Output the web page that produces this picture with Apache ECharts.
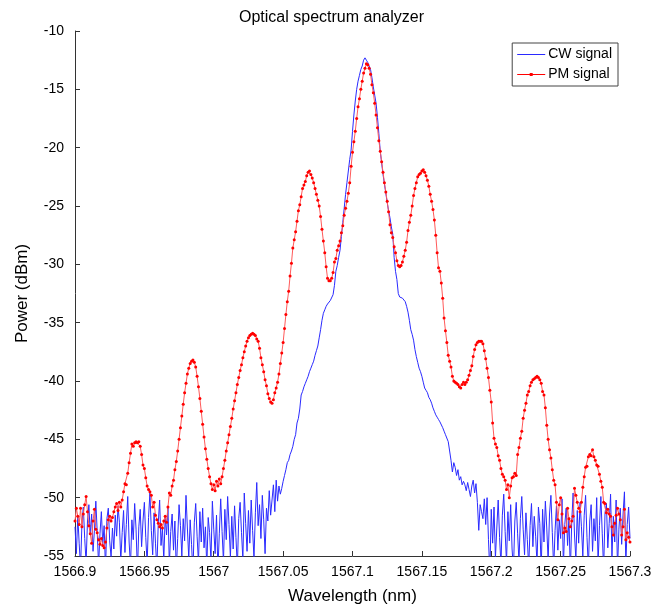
<!DOCTYPE html>
<html>
<head>
<meta charset="utf-8">
<script src="https://cdn.jsdelivr.net/npm/echarts@6/dist/echarts.min.js"></script>
<style>
  html, body { margin: 0; padding: 0; background: #fff; }
  #main { width: 663px; height: 610px; }
</style>
</head>
<body>
<div id="main"></div>
<script>
// OSA sample grid (nm)
var wlStart = 1566.9;
var wlStep = 0.001;

var xTicks = [1566.9, 1566.95, 1567, 1567.05, 1567.1, 1567.15, 1567.2, 1567.25, 1567.3];
var yTicks = [-55, -50, -45, -40, -35, -30, -25, -20, -15, -10];

// CW signal, dBm, one value per sample
var cwPower = [
  -52.5, -54.8, -51.6, -53.9, -56.0, -52.2, -50.8, -53.5, -55.6, -52.0,
  -50.6, -53.2, -51.4, -54.6, -52.8, -50.3, -52.9, -55.8, -53.1, -51.2,
  -54.0, -52.4, -56.2, -51.8, -50.9, -53.7, -55.1, -52.6, -54.4, -51.5,
  -53.3, -50.7, -52.1, -55.4, -53.0, -51.1, -54.7, -52.3, -49.9, -53.8,
  -55.9, -51.9, -53.6, -50.5, -52.7, -56.4, -52.5, -51.0, -54.2, -52.0,
  -50.4, -53.4, -55.7, -51.7, -49.6, -52.8, -54.9, -51.3, -53.9, -56.1,
  -52.2, -50.2, -54.1, -52.6, -55.3, -51.6, -53.2, -50.8, -55.8, -52.9,
  -51.4, -54.5, -52.0, -56.3, -53.5, -50.6, -52.4, -55.0, -51.8, -53.7,
  -49.8, -52.6, -55.2, -51.9, -54.0, -56.5, -52.1, -50.5, -53.3, -55.6,
  -51.2, -53.8, -50.9, -54.3, -52.5, -56.0, -51.7, -53.0, -55.4, -50.3,
  -52.7, -54.8, -51.5, -56.2, -53.1, -50.1, -52.9, -55.5, -51.0, -53.6,
  -49.9, -52.3, -55.1, -51.6, -54.4, -50.7, -53.4, -56.0, -51.8, -50.4,
  -53.0, -55.3, -49.6, -52.2, -54.6, -51.1, -53.9, -50.2, -52.8, -55.2,
  -51.3, -48.7, -52.4, -50.6, -53.5, -49.8, -51.9, -54.8, -50.9, -52.0,
  -49.4, -51.5, -50.2, -48.9, -51.2, -48.5, -50.3, -49.0, -49.7, -49.2,
  -48.6, -48.1, -47.6, -47.0, -46.8, -46.3, -46.0, -45.6, -45.0, -44.6,
  -43.6, -43.2, -42.4, -41.2, -40.9, -40.5, -40.2, -39.9, -39.6, -39.2,
  -38.9, -38.6, -38.3, -37.8, -37.4, -37.0, -36.3, -35.6, -34.8, -34.2,
  -33.9, -33.6, -33.4, -33.3, -33.1, -33.0, -32.6, -31.8, -30.6, -30.1,
  -29.4, -28.8, -27.6, -26.4, -25.2, -24.0, -23.0, -22.0, -21.0, -20.2,
  -18.6, -17.2, -16.0, -15.0, -14.3, -13.8, -13.3, -13.0, -12.5, -12.3,
  -12.5, -12.7, -12.8, -13.3, -14.0, -14.8, -15.5, -16.2, -17.4, -18.8,
  -20.3, -21.3, -22.3, -23.1, -23.9, -24.7, -25.4, -26.0, -26.8, -27.4,
  -29.4, -30.6, -31.3, -32.5, -32.8, -32.9, -32.9, -33.0, -33.2, -33.6,
  -34.1, -34.8, -35.6, -36.0, -36.5, -37.3, -37.9, -38.4, -38.9, -39.2,
  -39.6, -40.1, -40.6, -40.8, -41.0, -41.4, -41.6, -41.9, -42.3, -42.6,
  -42.9, -43.1, -43.3, -43.5, -43.4, -44.0, -44.3, -44.6, -44.6, -45.2,
  -46.0, -46.8, -47.8, -47.0, -47.4, -48.1, -47.6, -48.5, -48.2, -48.9,
  -48.6, -48.9, -49.4, -48.7, -49.3, -49.9, -49.0, -48.5, -49.6, -48.8,
  -50.4, -52.8, -50.6, -51.2, -51.8, -50.1, -52.3, -50.0, -53.6, -56.5,
  -51.0, -53.9, -50.8, -55.2, -52.6, -50.2, -53.4, -55.8, -51.5, -49.7,
  -52.9, -55.6, -51.2, -53.7, -50.6, -54.4, -56.2, -52.0, -50.4, -53.1,
  -55.5, -51.8, -49.9, -52.7, -54.9, -51.3, -53.6, -56.0, -52.4, -50.5,
  -54.2, -51.6, -53.3, -55.7, -50.8, -52.2, -56.3, -51.0, -53.8, -50.3,
  -52.6, -55.4, -51.4, -49.8, -53.0, -56.1, -52.8, -50.7, -54.5, -51.9,
  -53.5, -50.1, -55.9, -52.3, -50.9, -54.1, -51.7, -56.4, -52.1, -49.6,
  -53.2, -55.3, -51.1, -53.9, -50.4, -52.5, -55.0, -51.5, -49.8, -53.4,
  -56.0, -52.0, -50.6, -54.6, -51.8, -53.7, -50.0, -55.6, -52.4, -49.9,
  -53.1, -56.2, -51.3, -50.5, -54.3, -52.2, -49.7, -55.1, -51.6, -53.8,
  -50.2, -56.1, -52.7, -50.9, -54.0, -51.4, -49.5, -55.7, -52.3, -50.8,
  -53.5
];

// PM signal, dBm, one value per sample
var pmPower = [
  -52.0, -50.9, -51.6, -52.3, -50.9, -52.5, -51.4, -50.6, -49.9, -51.2,
  -52.4, -53.1, -53.9, -52.0, -51.0, -52.7, -53.0, -53.6, -54.0, -53.5,
  -54.1, -54.3, -53.8, -52.6, -51.9, -51.6, -52.0, -51.7, -51.2, -50.8,
  -50.5, -51.1, -50.4, -50.8, -50.2, -49.5, -48.8, -48.9, -47.9, -47.0,
  -46.2, -45.4, -45.6, -45.3, -45.2, -45.3, -45.2, -45.6, -46.3, -47.2,
  -47.5, -48.3, -49.0, -49.3, -49.5, -49.8, -50.8, -50.4, -51.5, -51.9,
  -52.2, -52.5, -52.3, -52.6, -52.0, -51.6, -52.1, -50.8, -49.6, -49.8,
  -49.0, -48.5, -47.6, -46.9, -46.0, -45.0, -44.0, -43.0, -42.0, -41.0,
  -40.2, -39.4, -38.9, -38.5, -38.3, -38.2, -38.4, -38.8, -39.6, -40.5,
  -41.5, -42.6, -43.7, -44.8, -45.8, -46.7, -47.5, -48.2, -48.8, -49.3,
  -48.9, -49.4, -48.6, -49.0, -48.4, -48.8, -48.2, -47.5, -46.8, -46.0,
  -45.3, -44.6, -43.9, -43.2, -42.4, -41.7, -41.0, -40.3, -39.7, -39.1,
  -38.6, -38.0, -37.5, -37.0, -36.6, -36.3, -36.1, -36.0, -35.9, -36.0,
  -36.1, -36.4, -36.6, -37.2, -38.0, -38.6, -39.2, -39.9, -40.4, -41.1,
  -41.5, -41.8, -41.9, -41.6, -41.0, -40.6, -40.1, -39.4, -38.5, -37.6,
  -36.7, -35.5, -34.3, -33.2, -32.3, -31.0, -29.9, -28.6, -27.9, -27.2,
  -26.3, -25.4, -24.9, -24.2, -23.5, -23.2, -22.9, -22.4, -22.1, -22.0,
  -22.3, -22.6, -23.0, -23.5, -24.0, -24.5, -25.0, -25.9, -27.0, -28.0,
  -29.0, -30.2, -31.2, -31.4, -31.4, -31.2, -30.7, -29.8, -29.5, -28.8,
  -28.4, -28.0, -27.3, -26.7, -25.8, -25.2, -24.6, -23.9, -23.0, -21.6,
  -20.4, -19.5, -18.6, -17.5, -16.5, -15.8, -15.0, -14.3, -13.6, -13.2,
  -12.8, -12.9, -13.2, -13.7, -14.6, -15.3, -16.2, -17.2, -18.3, -19.4,
  -20.3, -21.2, -22.1, -23.0, -23.8, -24.6, -25.5, -26.6, -27.3, -27.7,
  -28.5, -29.0, -29.7, -30.1, -30.2, -30.1, -29.8, -29.3, -28.8, -28.1,
  -27.1, -26.4, -25.8, -25.0, -24.1, -23.5, -23.0, -22.5, -22.3, -22.2,
  -22.0, -21.9, -22.1, -22.4, -22.8, -23.3, -24.0, -24.6, -25.3, -26.2,
  -27.5, -29.0, -30.3, -30.6, -31.6, -32.9, -34.6, -35.7, -36.7, -37.8,
  -38.3, -38.8, -39.6, -40.0, -40.1, -40.2, -40.3, -40.5, -40.6, -40.3,
  -40.1, -40.3, -40.1, -39.9, -39.5, -39.1, -38.7, -37.9, -37.3, -36.9,
  -36.7, -36.6, -36.6, -36.6, -36.8, -37.4, -38.1, -38.9, -39.7, -40.8,
  -41.8, -43.6, -44.9, -45.4, -45.7, -46.4, -46.8, -47.5, -48.0, -48.2,
  -48.5, -49.3, -48.9, -50.0, -49.0, -48.3, -48.2, -47.9, -48.1, -46.3,
  -45.7, -44.9, -44.3, -43.2, -42.5, -41.9, -41.2, -40.9, -40.4, -40.1,
  -39.9, -39.8, -39.7, -39.6, -39.7, -39.9, -40.2, -40.9, -41.2, -42.3,
  -43.8, -45.0, -45.9, -46.6, -47.6, -48.5, -48.9, -50.4, -51.9, -50.6,
  -50.0, -51.4, -53.0, -52.6, -52.9, -50.9, -51.8, -52.5, -52.0, -51.6,
  -49.2, -49.8, -50.4, -50.9, -51.2, -50.4, -49.1, -48.2, -47.4, -47.3,
  -46.5, -46.3, -46.4, -45.9, -46.5, -46.8, -47.2, -47.3, -48.0, -48.6,
  -49.1, -50.4, -50.5, -51.3, -51.0, -51.4, -51.6, -52.5, -53.2, -52.2,
  -51.5, -50.9, -51.4, -51.9, -53.2, -52.5, -51.0, -53.6, -53.0, -53.4,
  -53.8
];

function pairs(vals) {
  return vals.map(function (v, i) {
    return [+(wlStart + i * wlStep).toFixed(4), v];
  });
}

var font = '"Liberation Sans", Arial, sans-serif';
// legend glyphs: plain line, and line with a dot in the middle
var iconLine = 'path://M0,1h28v1h-28z M0,0h0.01v3h-0.01z';
var iconDotLine = 'path://M0,1h28v1h-28z M12.5,0h3v3h-3z';

var myChart = echarts.init(document.getElementById('main'));

var option = {
  animation: false,
  backgroundColor: '#fff',
  textStyle: { fontFamily: font },
  title: {
    text: 'Optical spectrum analyzer',
    left: 'center',
    top: 5,
    textStyle: { fontFamily: font, fontSize: 16, fontWeight: 'normal', color: '#000' }
  },
  legend: {
    orient: 'vertical',
    right: 45,
    top: 43,
    padding: [4, 6, 4, 5],
    itemGap: 5,
    itemWidth: 28,
    itemHeight: 3,
    borderColor: '#444',
    borderWidth: 1,
    backgroundColor: '#fff',
    textStyle: { fontFamily: font, fontSize: 14, color: '#000', padding: [0, 0, 0, -2], lineHeight: 15 },
    data: [
      { name: 'CW signal', icon: iconLine },
      { name: 'PM signal', icon: iconDotLine }
    ]
  },
  grid: { left: 75, right: 33, top: 31, bottom: 54 },
  xAxis: {
    type: 'value',
    min: xTicks[0],
    max: xTicks[xTicks.length - 1],
    interval: 0.05,
    name: 'Wavelength (nm)',
    nameLocation: 'middle',
    nameGap: 32,
    nameTextStyle: { fontFamily: font, fontSize: 17, color: '#000' },
    axisLine: { lineStyle: { color: '#333' } },
    axisTick: { inside: true, length: 5, lineStyle: { color: '#333' } },
    axisLabel: {
      fontFamily: font, fontSize: 14, color: '#000', margin: 9,
      formatter: function (v) { return String(+v.toFixed(2)); }
    },
    splitLine: { show: false }
  },
  yAxis: {
    type: 'value',
    min: yTicks[0],
    max: yTicks[yTicks.length - 1],
    interval: 5,
    name: 'Power (dBm)',
    nameLocation: 'middle',
    nameGap: 44,
    nameTextStyle: { fontFamily: font, fontSize: 17, color: '#000' },
    axisLine: { show: true, lineStyle: { color: '#333' } },
    axisTick: { show: true, inside: true, length: 5, lineStyle: { color: '#333' } },
    axisLabel: { fontFamily: font, fontSize: 14, color: '#000', margin: 11 },
    splitLine: { show: false }
  },
  series: [
    {
      name: 'CW signal',
      type: 'line',
      data: pairs(cwPower),
      showSymbol: false,
      symbol: 'none',
      lineStyle: { color: '#2a2aff', width: 1 },
      itemStyle: { color: '#2a2aff' },
      clip: true
    },
    {
      name: 'PM signal',
      type: 'line',
      data: pairs(pmPower),
      symbol: 'circle',
      symbolSize: 3,
      lineStyle: { color: '#ff5a5a', width: 1 },
      itemStyle: { color: '#ff0000' },
      clip: true
    }
  ]
};

myChart.setOption(option);
</script>
</body>
</html>
